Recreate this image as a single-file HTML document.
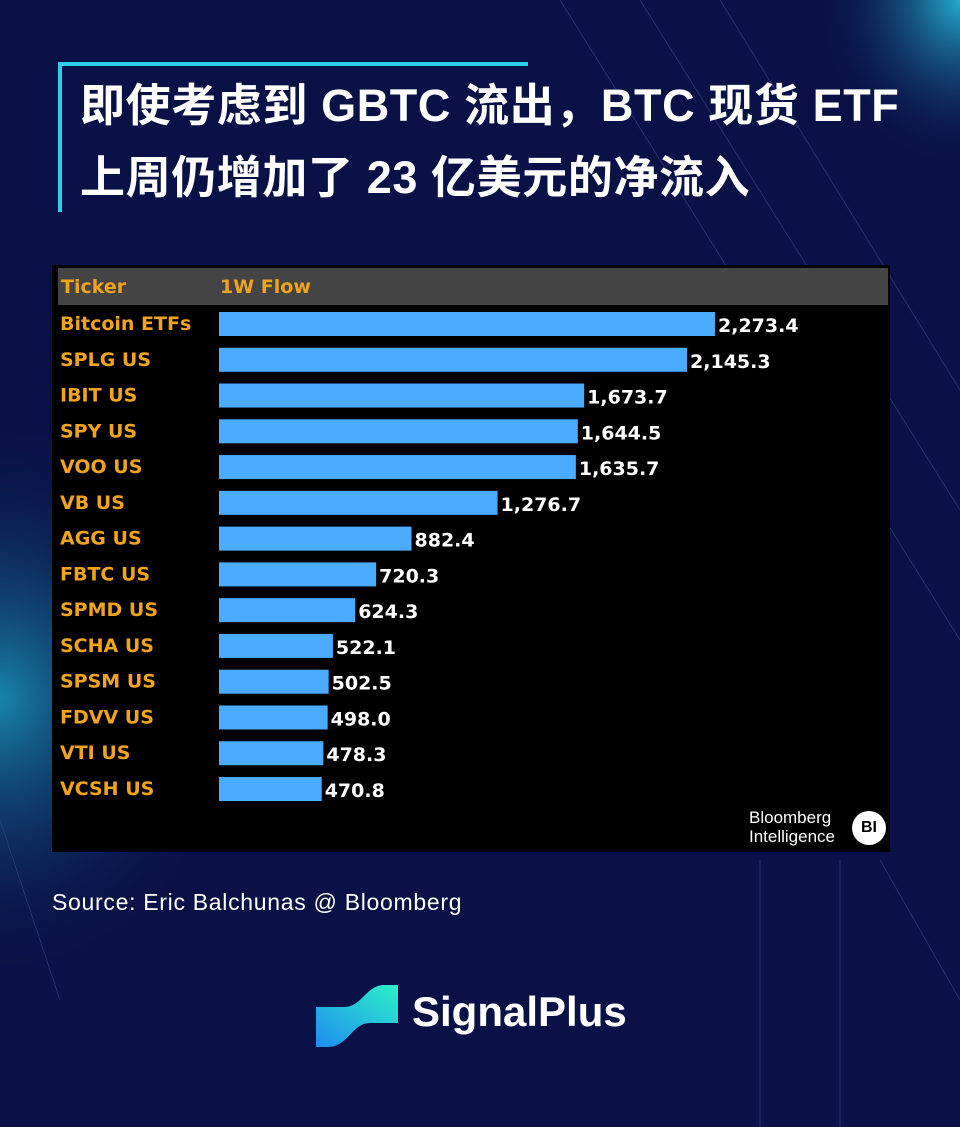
<!DOCTYPE html>
<html><head><meta charset="utf-8"><style>
body{margin:0;width:960px;height:1127px;overflow:hidden;background:#0a1146;font-family:"Liberation Sans","Noto Sans CJK SC",sans-serif;position:relative}
.abs{position:absolute}
</style></head><body>
<svg class="abs" style="left:0;top:0" width="960" height="1127">
<defs>
<radialGradient id="g1" cx="0" cy="0.62" r="0.25"><stop offset="0" stop-color="#1fb6d6" stop-opacity="0.7"/><stop offset="1" stop-color="#0a1146" stop-opacity="0"/></radialGradient>
<radialGradient id="g2" cx="1" cy="0" r="0.15"><stop offset="0" stop-color="#2bd3f0" stop-opacity="0.8"/><stop offset="1" stop-color="#0a1146" stop-opacity="0"/></radialGradient>
</defs>
<rect width="960" height="1127" fill="url(#g1)"/>
<rect width="960" height="1127" fill="url(#g2)"/>
<g stroke="#3a4a8a" stroke-width="1" opacity="0.6">
<line x1="560" y1="0" x2="960" y2="640"/><line x1="640" y1="0" x2="960" y2="510"/><line x1="720" y1="0" x2="960" y2="390"/>
<line x1="0" y1="820" x2="60" y2="1000"/><line x1="760" y1="860" x2="760" y2="1127"/><line x1="840" y1="860" x2="840" y2="1127"/>
<line x1="880" y1="860" x2="960" y2="1000"/>
</g>
</svg>
<div class="abs" style="left:58px;top:62px;width:470px;height:4px;background:#2ad0e6"></div>
<div class="abs" style="left:58px;top:62px;width:4px;height:150px;background:#2ad0e6"></div>
<div class="abs" style="left:80px;top:70px;color:#fff;font-weight:bold;font-size:45px;line-height:72px;letter-spacing:0.6px;white-space:nowrap">即使考虑到 GBTC 流出，BTC 现货 ETF<br>上周仍增加了 23 亿美元的净流入</div>
<div class="abs" style="left:52px;top:265px;width:838px;height:587px;background:#000"></div>
<div class="abs" style="left:58px;top:268px;width:830px;height:37px;background:#444"></div>
<svg class="abs" style="left:0;top:0" width="960" height="1127" id="chart"></svg>
<div class="abs" style="left:749px;top:808px;color:#fff;font-size:17px;line-height:19px">Bloomberg<br>Intelligence</div>
<div class="abs" style="left:852px;top:811px;width:34px;height:34px;border-radius:50%;background:#fff;color:#000;font-weight:bold;font-size:16px;text-align:center;line-height:34px">BI</div>
<div class="abs" style="left:52px;top:889px;color:#fff;font-size:23px;letter-spacing:0.7px">Source: Eric Balchunas @ Bloomberg</div>
<svg class="abs" style="left:314px;top:985px" width="86" height="62">
<defs><linearGradient id="lg" x1="0" y1="1" x2="1" y2="0"><stop offset="0" stop-color="#1e8cf0"/><stop offset="1" stop-color="#2ef0c8"/></linearGradient></defs>
<path d="M2 22 L30 22 C48 22 52 0 70 0 L84 0 L84 38 L56 38 C38 38 34 62 14 62 L2 62 Z" fill="url(#lg)"/>
</svg>
<div class="abs" style="left:412px;top:988px;color:#fff;font-weight:bold;font-size:42px">SignalPlus</div>
<script>
const tickers=["Bitcoin ETFs","SPLG US","IBIT US","SPY US","VOO US","VB US","AGG US","FBTC US","SPMD US","SCHA US","SPSM US","FDVV US","VTI US","VCSH US"];
const flows=[2273.4,2145.3,1673.7,1644.5,1635.7,1276.7,882.4,720.3,624.3,522.1,502.5,498.0,478.3,470.8];
const headers=["Ticker","1W Flow"];
const svg=document.getElementById('chart');const NS='http://www.w3.org/2000/svg';
const x0=219,scale=(715-219)/2273.4;
const xs=v=>v*scale;const ys=i=>312+i*35.77;
function t(x,y,s){const e=document.createElementNS(NS,'text');e.setAttribute('x',x);e.setAttribute('y',y);e.textContent=s;e.setAttribute('font-family','"DejaVu Sans",sans-serif');e.setAttribute('font-weight','bold');e.setAttribute('font-size','19');svg.appendChild(e);return e;}
let h=t(61,293,headers[0]);h.setAttribute('fill','#f0a31c');


h=t(220,293,headers[1]);h.setAttribute('fill','#f0a31c');


tickers.forEach((k,i)=>{
 const y=ys(i);
 const l=t(60,y+18,k);l.setAttribute('fill','#f0a31c');
 
 
 const r=document.createElementNS(NS,'rect');r.setAttribute('x',x0);r.setAttribute('y',y);r.setAttribute('width',xs(flows[i]));r.setAttribute('height',24);r.setAttribute('fill','#4aabff');svg.appendChild(r);
 
 
 const v=t(x0+xs(flows[i])+3,y+20,flows[i].toLocaleString('en-US',{minimumFractionDigits:1,maximumFractionDigits:1}));v.setAttribute('fill','#fff');
 
 
});
</script>
</body></html>
